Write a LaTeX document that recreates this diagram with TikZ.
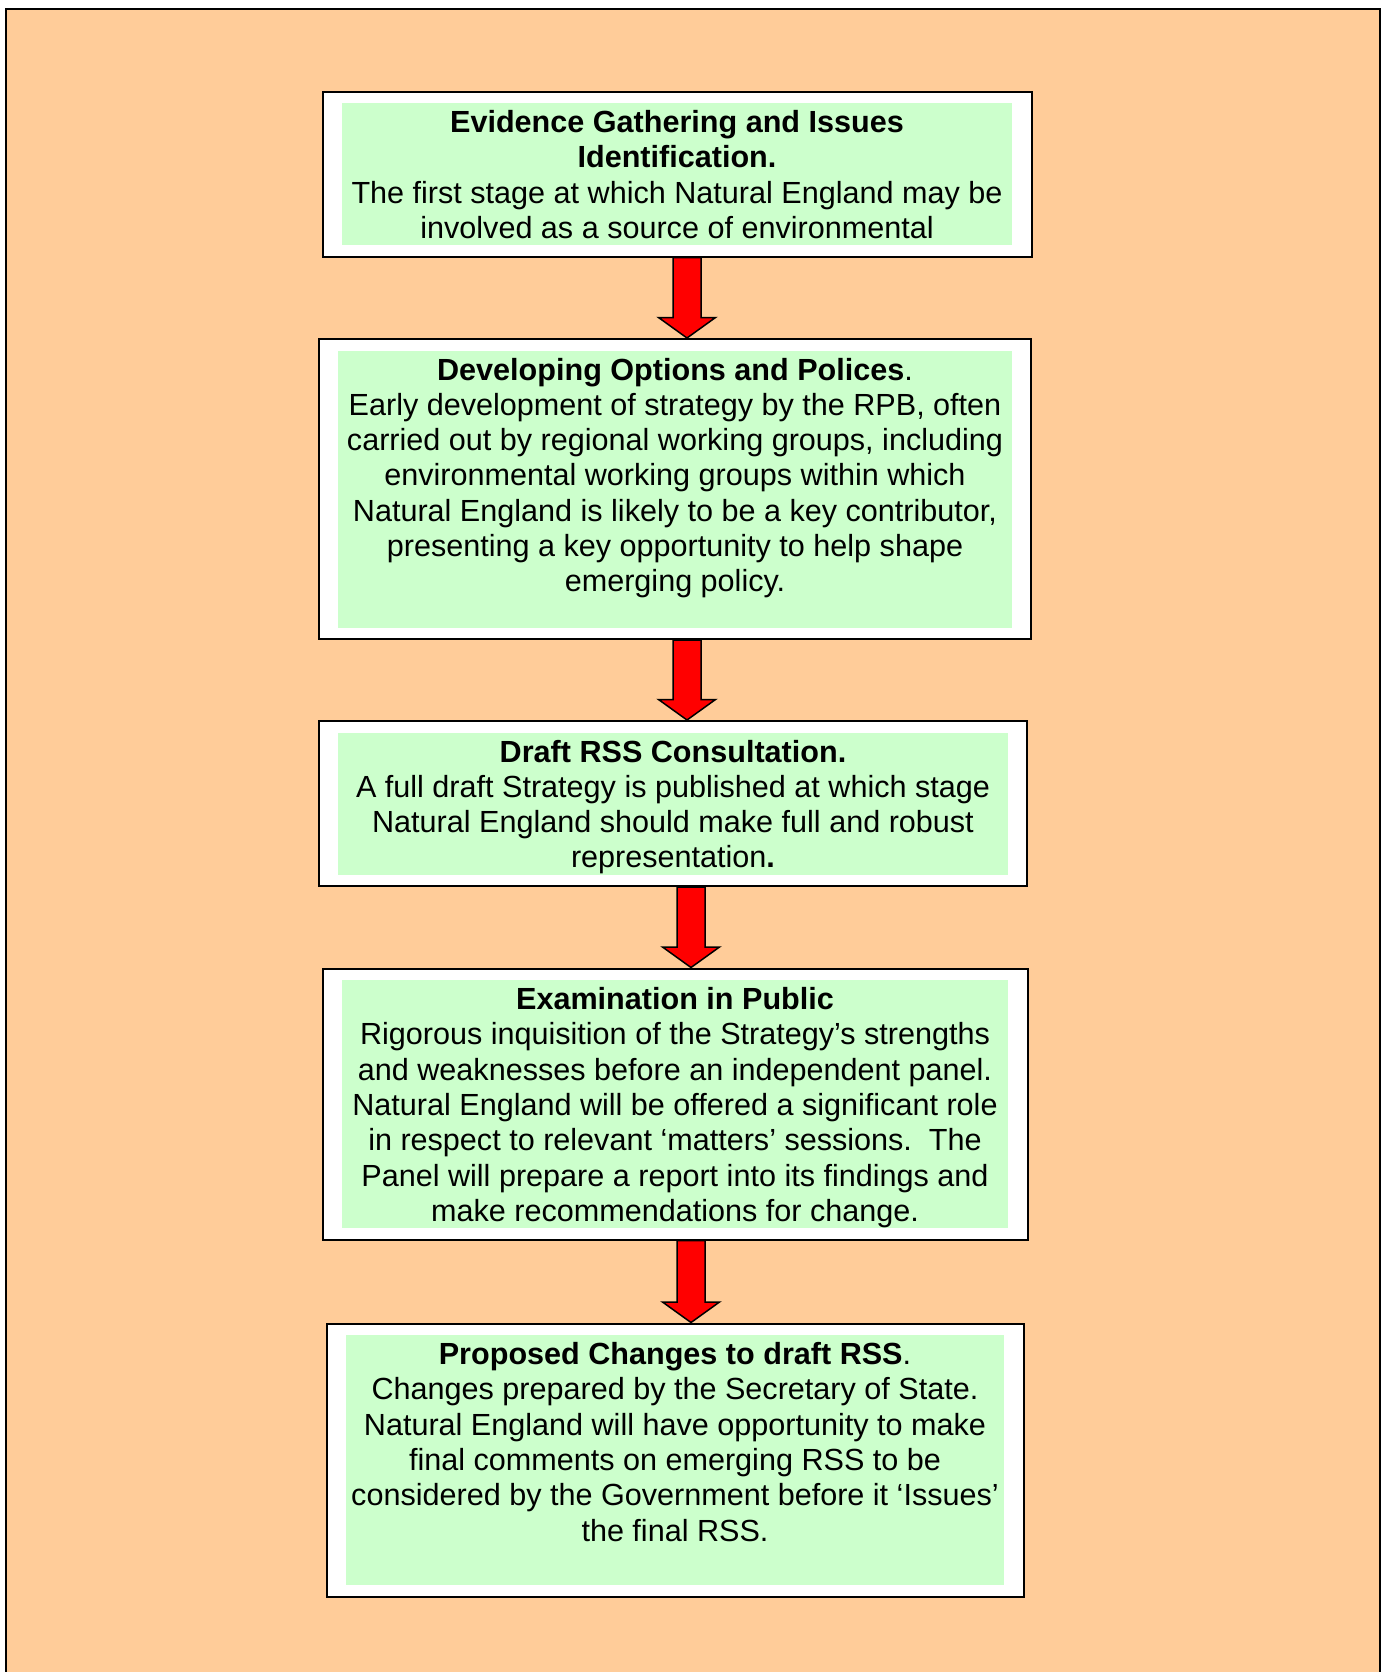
\documentclass[tikz,border=0pt]{standalone}
\usepackage{fontspec}
\setmainfont{Liberation Sans}
\usetikzlibrary{calc}
\definecolor{peach}{HTML}{FFCC99}
\definecolor{stagegreen}{HTML}{CCFFCC}
\tikzset{>=stealth,
  stage/.style={draw=black, line width=0.2mm, fill=white, inner xsep=1.9mm, inner ysep=1.15mm},
  stagearrow/.style={draw=black, line width=0.15mm, fill=red, line join=miter}}
\newcommand{\stagetext}[3]{{\setlength{\fboxsep}{0pt}\colorbox{stagegreen}{\begin{minipage}[c][#2][t]{#1}\centering\fontsize{8.7pt}{10.05pt}\selectfont\rule{0pt}{8.4pt}#3\end{minipage}}}}
\newcommand{\stagelink}[3]{%
  \filldraw[stagearrow] let \p1=(#1.south -| #3), \p2=(#2.north -| #3) in
    (\x1-1.4mm,\y1) -- (\x1+1.4mm,\y1) -- (\x1+1.4mm,\y2+2.05mm) -- (\x1+2.85mm,\y2+2.05mm)
    -- (\x2,\y2) -- (\x1-2.85mm,\y2+2.05mm) -- (\x1-1.4mm,\y2+2.05mm) -- cycle;}

\begin{document}
\begin{tikzpicture}[x=0.1mm,y=-0.1mm]
\useasboundingbox[fill=white] (0,0) rectangle (1387,1672);
\draw[fill=peach, line width=0.25mm] (6,9) rectangle (1380,1700);
\coordinate (ax) at (687,0);
\coordinate (bx) at (691,0);

\node[stage] (gather) at (677,174) {\stagetext{67.1mm}{14.2mm}{\textbf{Evidence Gathering and Issues\\Identification.}\\The first stage at which Natural England may be\\involved as a source of environmental}};
\node[stage] (options) at (675,489) {\stagetext{67.4mm}{27.7mm}{\textbf{Developing Options and Polices}.\\Early development of strategy by the RPB, often\\carried out by regional working groups, including\\environmental working groups within which\\Natural England is likely to be a key contributor,\\presenting a key opportunity to help shape\\emerging policy.}};
\node[stage] (draft) at (673,803.5) {\stagetext{67.0mm}{14.2mm}{\textbf{Draft RSS Consultation.}\\A full draft Strategy is published at which stage\\Natural England should make full and robust\\representation\textbf{.}}};
\node[stage] (exam) at (675,1104) {\stagetext{66.7mm}{24.8mm}{\textbf{Examination in Public}\\Rigorous inquisition of the Strategy’s strengths\\and weaknesses before an independent panel.\\Natural England will be offered a significant role\\in respect to relevant ‘matters’ sessions.\ \ The\\Panel will prepare a report into its findings and\\make recommendations for change.}};
\node[stage] (changes) at (675,1460) {\stagetext{65.9mm}{25.0mm}{\textbf{Proposed Changes to draft RSS}.\\Changes prepared by the Secretary of State.\\Natural England will have opportunity to make\\final comments on emerging RSS to be\\considered by the Government before it ‘Issues’\\the final RSS.}};

\stagelink{gather}{options}{ax}
\stagelink{options}{draft}{ax}
\stagelink{draft}{exam}{bx}
\stagelink{exam}{changes}{bx}
\end{tikzpicture}
\end{document}
